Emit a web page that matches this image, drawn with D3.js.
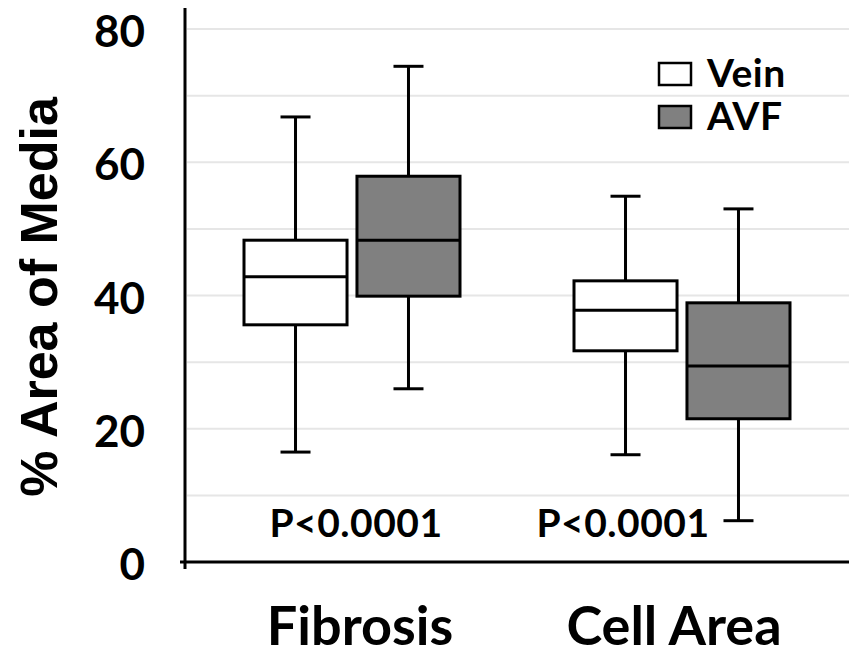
<!DOCTYPE html>
<html>
<head>
<meta charset="utf-8">
<script src="https://cdn.jsdelivr.net/npm/d3@7"></script>
<style>
  body { margin: 0; background: #fff; }
  text { font-family: Lato, "Open Sans", sans-serif; font-weight: bold; fill: #000; }
</style>
</head>
<body>
<div id="chart"></div>
<script>
var categories = ['Fibrosis', 'Cell Area']
var groups = ['Vein', 'AVF']
// five-number summaries: [min, q1, median, q3, max]
var veinStats = [[16.5, 35.6, 42.8, 48.3, 66.8], [16.1, 31.7, 37.8, 42.2, 54.9]]
var avfStats = [[26.0, 39.9, 48.3, 57.9, 74.4], [6.2, 21.5, 29.4, 38.9, 53.0]]
var pLabels = ['P<0.0001', 'P<0.0001']
var yTicks = [0, 20, 40, 60, 80]
var gridTicks = [10, 20, 30, 40, 50, 60, 70, 80]
var fills = ['#ffffff', '#808080']

var W = 849
var H = 657

var svg = d3.select('#chart').append('svg')
  .attr('width', W)
  .attr('height', H)

var y = d3.scaleLinear().domain([0, 80]).range([562, 29])
var x = d3.scaleBand().domain(categories).range([187, 847])
var sub = d3.scaleBand().domain(groups).range([-108, 108]).paddingInner(0.088)

// gridlines
svg.selectAll('line.grid').data(gridTicks).enter().append('line')
  .attr('x1', 187).attr('x2', W)
  .attr('y1', function (d) { return y(d) })
  .attr('y2', function (d) { return y(d) })
  .attr('stroke', '#e6e6e6')
  .attr('stroke-width', 2)

// y axis
var yAxis = d3.axisLeft(y).tickValues(yTicks).tickSize(0).tickPadding(40)
var ya = svg.append('g').attr('transform', 'translate(185,0)').call(yAxis)
ya.select('.domain').remove()
ya.selectAll('text').attr('font-size', 44).attr('font-family', 'Lato, sans-serif')
  .attr('font-weight', 'bold').attr('dy', '0.4em')

svg.append('line').attr('x1', 185).attr('x2', 185).attr('y1', 8).attr('y2', 569)
  .attr('stroke', '#000').attr('stroke-width', 3)
svg.append('line').attr('x1', 180).attr('x2', W).attr('y1', 562).attr('y2', 562)
  .attr('stroke', '#000').attr('stroke-width', 3)

// y title
svg.append('text')
  .attr('transform', 'translate(57,297) rotate(-90)')
  .attr('text-anchor', 'middle')
  .style('font-family', '"Liberation Sans", Arial, sans-serif')
  .attr('font-size', 52)
  .text('% Area of Media')

// category labels
svg.selectAll('text.cat').data(categories).enter().append('text')
  .attr('class', 'cat')
  .attr('x', function (d, i) { return x(d) + x.bandwidth() / 2 + (i === 0 ? 8 : -8) })
  .attr('y', 645)
  .attr('text-anchor', 'middle')
  .attr('font-size', 54)
  .text(function (d) { return d })

// boxes
var boxes = []
categories.forEach(function (c, i) {
  boxes.push({ cat: c, group: 'Vein', s: veinStats[i], fill: fills[0] })
  boxes.push({ cat: c, group: 'AVF', s: avfStats[i], fill: fills[1] })
})

var bw = sub.bandwidth()
var g = svg.selectAll('g.box').data(boxes).enter().append('g')
  .attr('class', 'box')
  .attr('transform', function (d) {
    return 'translate(' + (x(d.cat) + x.bandwidth() / 2 + sub(d.group)) + ',0)'
  })

g.append('line')
  .attr('x1', bw / 2).attr('x2', bw / 2)
  .attr('y1', function (d) { return y(d.s[0]) })
  .attr('y2', function (d) { return y(d.s[4]) })
  .attr('stroke', '#000').attr('stroke-width', 3)
g.selectAll('line.cap').data(function (d) { return [d.s[0], d.s[4]] }).enter().append('line')
  .attr('x1', bw / 2 - 15).attr('x2', bw / 2 + 15)
  .attr('y1', function (v) { return y(v) })
  .attr('y2', function (v) { return y(v) })
  .attr('stroke', '#000').attr('stroke-width', 3)
g.append('rect')
  .attr('x', 0).attr('width', bw)
  .attr('y', function (d) { return y(d.s[3]) })
  .attr('height', function (d) { return y(d.s[1]) - y(d.s[3]) })
  .attr('fill', function (d) { return d.fill })
  .attr('stroke', '#000').attr('stroke-width', 3)
g.append('line')
  .attr('x1', 0).attr('x2', bw)
  .attr('y1', function (d) { return y(d.s[2]) })
  .attr('y2', function (d) { return y(d.s[2]) })
  .attr('stroke', '#000').attr('stroke-width', 3)

// p values
svg.selectAll('text.p').data(pLabels).enter().append('text')
  .attr('class', 'p')
  .attr('x', function (d, i) { return x(categories[i]) + x.bandwidth() / 2 + (i === 0 ? 4 : -59) })
  .attr('y', 537)
  .attr('text-anchor', 'middle')
  .attr('font-size', 39)
  .attr('letter-spacing', 0.5)
  .text(function (d) { return d })

// legend
var leg = svg.selectAll('g.leg').data(groups).enter().append('g')
  .attr('class', 'leg')
  .attr('transform', function (d, i) { return 'translate(659,' + (63 + i * 43) + ')' })
leg.append('rect')
  .attr('width', 32).attr('height', 22)
  .attr('fill', function (d, i) { return fills[i] })
  .attr('stroke', '#000').attr('stroke-width', 2.5)
leg.append('text')
  .attr('x', 48).attr('y', 24)
  .attr('font-size', 39)
  .attr('letter-spacing', 0.5)
  .text(function (d) { return d })
</script>
</body>
</html>
